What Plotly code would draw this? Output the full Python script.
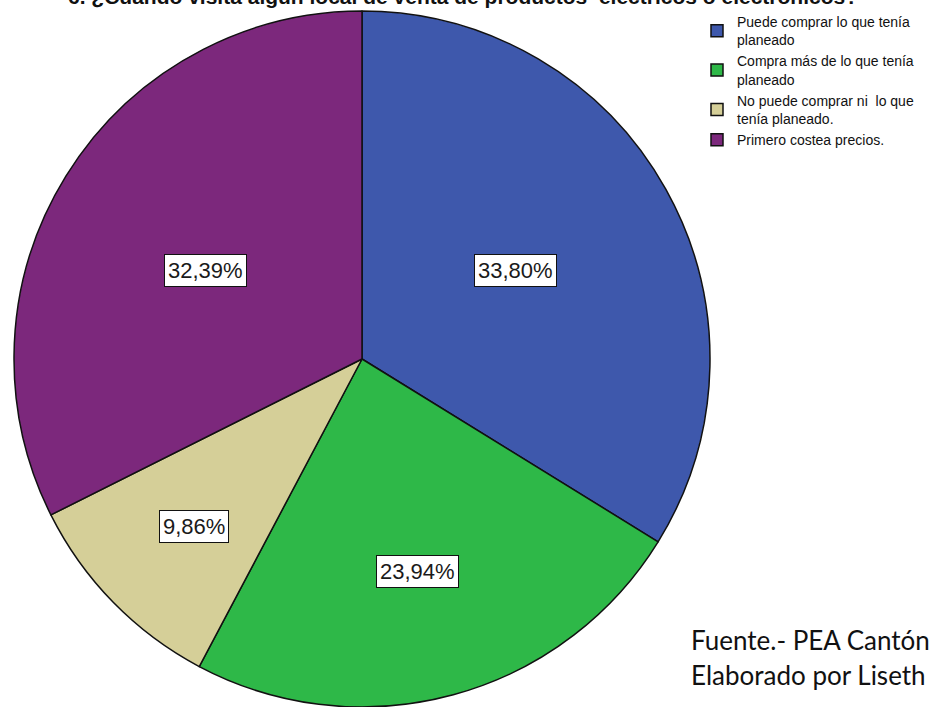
import plotly.graph_objects as go

# Response categories and their share of respondents (%)
categories = [
    "Puede comprar lo que tenía<br>planeado",
    "Compra más de lo que tenía<br>planeado",
    "No puede comprar ni  lo que<br>tenía planeado.",
    "Primero costea precios.",
]
percentages = [33.80, 23.94, 9.86, 32.39]
slice_colors = ["#3E58AC", "#2EB848", "#D5CF98", "#7C287C"]

# Label box centres (pixels in the 938x707 canvas)
label_pos_px = [(515, 270), (417, 571), (194, 526), (205, 270)]

W, H = 938, 707

fig = go.Figure(
    go.Pie(
        labels=categories,
        values=percentages,
        sort=False,
        direction="clockwise",
        rotation=0,
        textinfo="none",
        hoverinfo="label+percent",
        marker=dict(colors=slice_colors, line=dict(color="#111111", width=1.5)),
        domain=dict(x=[14 / W, 710 / W], y=[0, 696 / H]),
    )
)

annotations = []
for v, (px, py) in zip(percentages, label_pos_px):
    annotations.append(
        dict(
            x=px / W, y=1 - py / H, xref="paper", yref="paper",
            text=f"{v:.2f}%".replace(".", ","),
            showarrow=False,
            font=dict(family="Liberation Sans, Arial", size=22, color="#1a1a1a"),
            bgcolor="white", bordercolor="#111111", borderwidth=1, borderpad=3,
            xanchor="center", yanchor="middle",
        )
    )

# Question heading (runs off the top edge of the page)
annotations.append(
    dict(
        x=66 / W, y=1 + 4 / H, xref="paper", yref="paper",
        text="<b>6. ¿Cuándo visita algún local de venta de productos  eléctricos o electrónicos?</b>",
        showarrow=False, xanchor="left", yanchor="middle",
        font=dict(family="Liberation Sans, Arial", size=21, color="#111111"),
    )
)

# Source notes
for txt, py in [("Fuente.- PEA Cantón", 640), ("Elaborado por Liseth", 675)]:
    annotations.append(
        dict(
            x=689 / W, y=1 - py / H, xref="paper", yref="paper",
            text=txt, showarrow=False, xanchor="left", yanchor="middle",
            font=dict(family="Lato, Open Sans, sans-serif", size=26, color="#111111"),
        )
    )

fig.update_layout(
    width=W, height=H,
    margin=dict(l=0, r=0, t=0, b=0),
    paper_bgcolor="white", plot_bgcolor="white",
    showlegend=True,
    legend=dict(
        x=697 / W, y=1 - 6 / H, xanchor="left", yanchor="top",
        font=dict(family="Liberation Sans, Arial", size=14, color="#111111"),
        bgcolor="rgba(0,0,0,0)", itemwidth=30, tracegroupgap=0,
    ),
    annotations=annotations,
)

fig.write_html("out.html")
